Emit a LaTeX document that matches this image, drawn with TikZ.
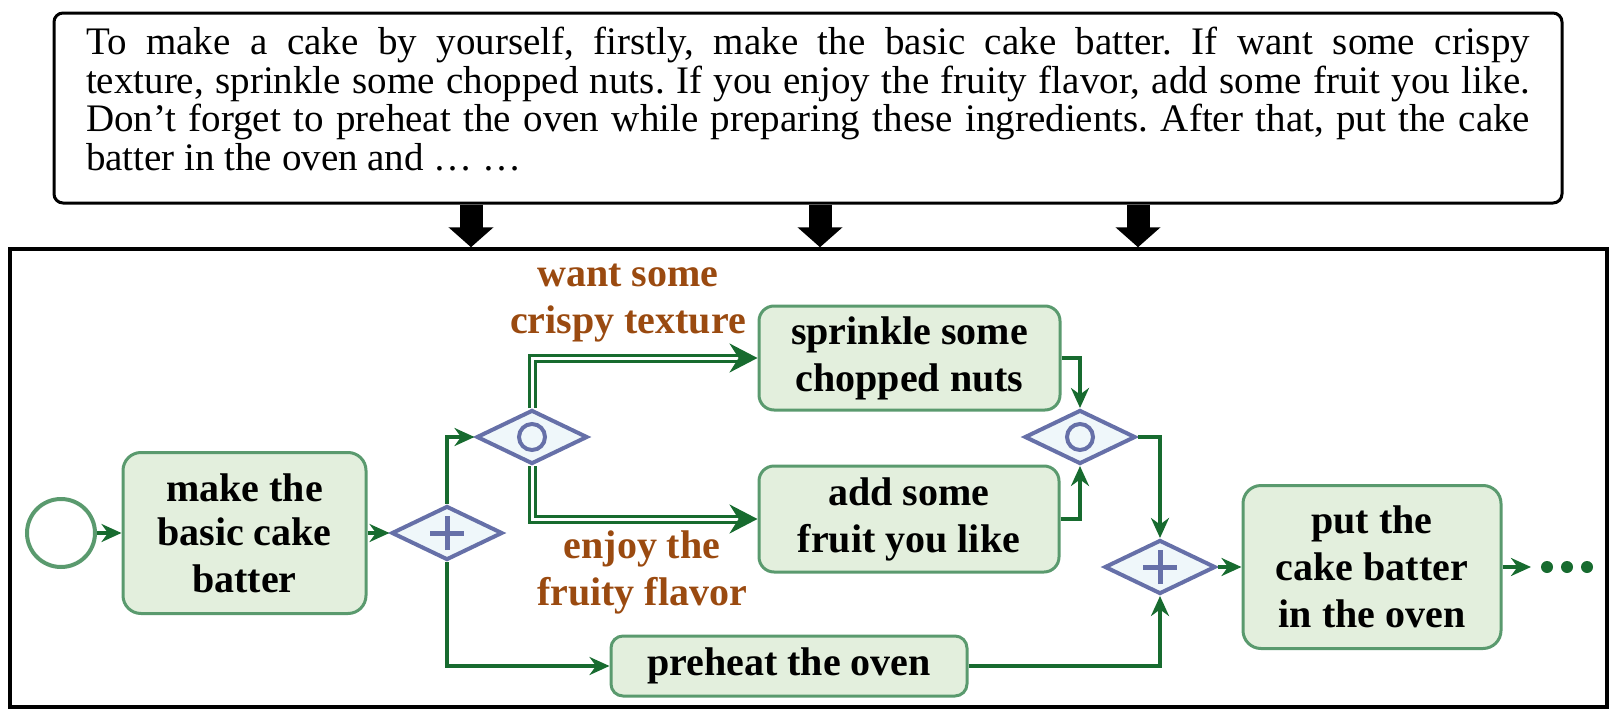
\documentclass[tikz,border=0pt]{standalone}
\usepackage{fontspec}
\setmainfont{Liberation Serif}
\usetikzlibrary{shapes.geometric,arrows.meta,positioning}
\frenchspacing

\definecolor{taskfill}{HTML}{E3EFDD}
\definecolor{taskline}{HTML}{5A9A6E}
\definecolor{flowgreen}{HTML}{176B2F}
\definecolor{gateline}{HTML}{6670A8}
\definecolor{gatefill}{HTML}{EFF7FA}
\definecolor{condbrown}{HTML}{9A4A10}

\tikzset{
  task/.style={draw=taskline, fill=taskfill, line width=3pt, rounded corners=18pt,
    align=center, inner sep=0pt, font=\fontsize{40}{47}\selectfont\bfseries},
  gateway/.style={diamond, draw=gateline, fill=gatefill, line width=4pt, inner sep=0pt,
    minimum width=111pt, minimum height=54pt},
  gateplus/.style={gateway, path picture={\draw[gateline, line width=5pt]
    (path picture bounding box.center) +(-17pt,0pt) -- +(17pt,0pt) +(0pt,-17pt) -- +(0pt,17pt);}},
  gateor/.style={gateway, path picture={\draw[gateline, line width=4pt]
    (path picture bounding box.center) circle (13pt);}},
  cond/.style={align=center, text=condbrown, inner sep=0pt, font=\fontsize{40}{47}\selectfont\bfseries},
  flow/.style={draw=flowgreen, line width=3.5pt, -{Stealth[length=20pt,width=18pt]}},
  dflow/.style={draw=flowgreen, line width=3pt, double=white, double distance=3pt,
    -{Stealth[length=28pt,width=29pt]}},
  bigarrow/.style={draw=black, line width=23pt, -{Triangle[length=20pt,width=44pt]}}
}

\begin{document}
\begin{tikzpicture}[x=1pt,y=-1pt]
    \useasboundingbox (0,0) rectangle (1612,712);
    % description and process frame
    \node[draw, line width=3pt, rounded corners=9pt, minimum width=1508pt, minimum height=190pt,
      text width=1444pt, align=justify, font=\fontsize{39}{38.5}\selectfont] (desc) at (808,108)
      {\rule{0pt}{27pt}To make a cake by yourself, firstly, make the basic cake batter. If want some crispy\linebreak
       texture, sprinkle some chopped nuts. If you enjoy the fruity flavor, add some fruit you like.\linebreak
       Don’t forget to preheat the oven while preparing these ingredients. After that, put the cake\linebreak
       batter in the oven and … …\rule[-18pt]{0pt}{18pt}};
    \node[draw, line width=3.5pt, minimum width=1597pt, minimum height=458pt] (frame) at (808.5,478) {};
    \foreach \x in {471,820,1138}
        \draw[bigarrow] (\x,0 |- desc.south) -- (\x,0 |- frame.north);

    % process
    \node[circle, draw=taskline, fill=white, line width=4pt, minimum size=68pt] (start) at (61,533) {};
    \node[task, minimum width=243pt, minimum height=161pt] (batter) at (244.5,533) {\raisebox{-3pt}{make the}\\basic cake\\batter};
    \node[gateplus] (split) at (447,533) {};
    \node[gateor] (choice) at (532,437) {};
    \node[task, rounded corners=15pt, minimum width=301pt, minimum height=104pt] (nuts) at (909.5,358) {sprinkle some\\chopped nuts};
    \node[task, rounded corners=15pt, minimum width=300pt, minimum height=106pt] (fruit) at (909,519) {add some\\fruit you like};
    \node[gateor] (merge) at (1080,437) {};
    \node[gateplus] (join) at (1160,567) {};
    \node[task, rounded corners=12pt, minimum width=356pt, minimum height=60pt] (preheat) at (789,666) {preheat the oven};
    \node[task, minimum width=258pt, minimum height=163pt] (bake) at (1372,567) {put the\\cake batter\\in the oven};
    \coordinate (more) at (1531,567);
    \foreach \x in {1547,1567,1587}
        \fill[flowgreen] (\x,567) circle (6);

    \node[cond] (wantlbl) at (628,303) {want some\\crispy texture};
    \node[cond] (enjoylbl) at (642,572) {enjoy the\\fruity flavor};

    \draw[flow] (start) -- (batter);
    \draw[flow] (batter) -- (split);
    \draw[flow] (split.north) |- (choice.west);
    \draw[flow] (split.south) |- (preheat.west);
    \draw[dflow] (choice.north) |- (nuts.west);
    \draw[dflow] (choice.south) |- (fruit.west);
    \draw[flow] (nuts.east) -| (merge.north);
    \draw[flow] (fruit.east) -| (merge.south);
    \draw[flow] (merge.east) -| (join.north);
    \draw[flow] (preheat.east) -| (join.south);
    \draw[flow] (join) -- (bake);
    \draw[flow] (bake.east) -- (more);
\end{tikzpicture}
\end{document}
